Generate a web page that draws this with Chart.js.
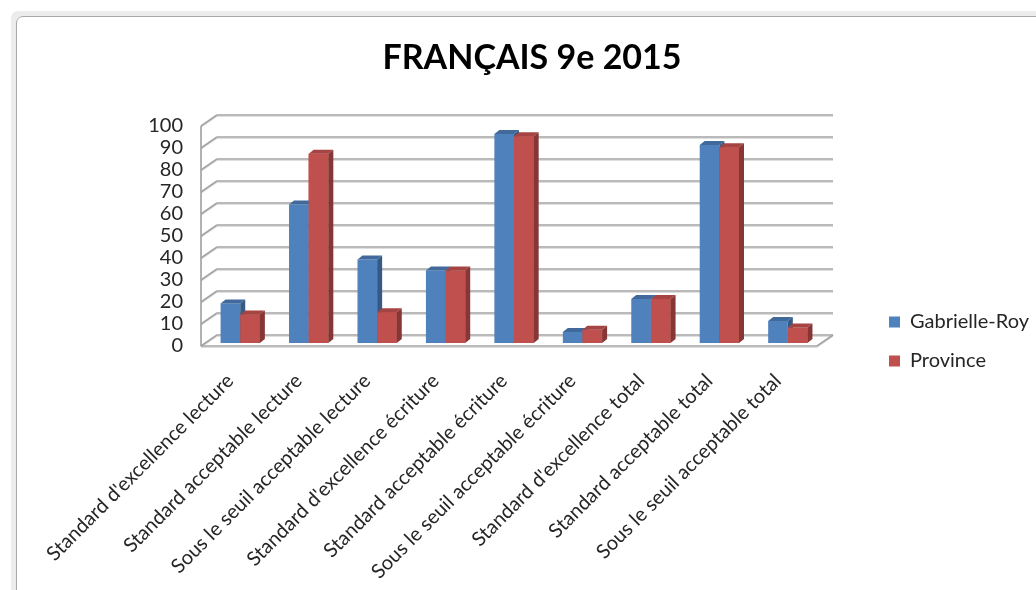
<!DOCTYPE html>
<html>
<head>
<meta charset="utf-8">
<title>Français 9e 2015</title>
<script src="https://cdn.jsdelivr.net/npm/chart.js@4.4.0/dist/chart.umd.min.js"></script>
<style>
  body { margin: 0; width: 1036px; height: 590px; overflow: hidden; position: relative; background: #fff; }
  #frame {
    position: absolute; left: 16px; top: 16px; width: 1060px; height: 620px;
    border: 1px solid #a9a9a9; border-top-left-radius: 7px;
    box-shadow: -5px -5px 0 0 #ececec;
  }
  #wrap { position: absolute; left: 18px; top: 18px; width: 1030px; height: 572px; }
</style>
</head>
<body>
<div id="frame"></div>
<div id="wrap"><canvas id="chart" width="1030" height="572"></canvas></div>
<script>
// data
const categories = [
  "Standard d'excellence lecture",
  "Standard acceptable lecture",
  "Sous le seuil acceptable lecture",
  "Standard d'excellence écriture",
  "Standard acceptable écriture",
  "Sous le seuil acceptable écriture",
  "Standard d'excellence total",
  "Standard acceptable total",
  "Sous le seuil acceptable total"
];
const gabrielleRoy = [18, 63, 38, 33, 95, 5, 20, 90, 10];
const province = [13, 86, 14, 33, 94, 6, 20, 89, 7];
const yMin = 0, yMax = 100, yStep = 10;

// 3D look (pixels)
const WALL_DX = 16, WALL_DY = -11;   // depth of the walls
const BAR_DX = 5, BAR_DY = -3;       // bars sit a bit behind the front edge
const DEPTH_DX = 5, DEPTH_DY = -4;   // depth of each bar
const LEGEND_X = 871, LEGEND_Y = 294;

const FONT = 'Lato, "Open Sans", sans-serif';

const colors = {
  blue: { front: '#4f81bd', top: '#41699b', side: '#365a86' },
  red:  { front: '#c0504d', top: '#a54442', side: '#863634' }
};

function drawLine(ctx, x1, y1, x2, y2) {
  ctx.beginPath();
  ctx.moveTo(x1, y1);
  ctx.lineTo(x2, y2);
  ctx.stroke();
}

function strokeWall(ctx, fn) {
  ctx.save();
  ctx.lineWidth = 1;
  ctx.strokeStyle = '#dedede';
  ctx.translate(0, 1.5);
  fn();
  ctx.restore();
  ctx.save();
  ctx.lineWidth = 1.6;
  ctx.strokeStyle = '#a3a3a3';
  fn();
  ctx.restore();
}

function barFaces(ctx, bar, c) {
  const p = bar.getProps(['x', 'y', 'base', 'width'], true);
  const l = p.x - p.width / 2, r = p.x + p.width / 2;
  ctx.fillStyle = c.top;
  ctx.beginPath();
  ctx.moveTo(l, p.y);
  ctx.lineTo(l + DEPTH_DX, p.y + DEPTH_DY);
  ctx.lineTo(r + DEPTH_DX, p.y + DEPTH_DY);
  ctx.lineTo(r, p.y);
  ctx.closePath();
  ctx.fill();
  ctx.fillStyle = c.side;
  ctx.beginPath();
  ctx.moveTo(r, p.y);
  ctx.lineTo(r + DEPTH_DX, p.y + DEPTH_DY);
  ctx.lineTo(r + DEPTH_DX, p.base + DEPTH_DY);
  ctx.lineTo(r, p.base);
  ctx.closePath();
  ctx.fill();
}

const box3d = {
  id: 'box3d',
  afterLayout(chart) {
    // put the legend where Excel had it
    const lg = chart.legend;
    const pad = lg.options.labels.padding;
    const w = lg.width, h = lg.height;
    lg.left = LEGEND_X - pad; lg.right = lg.left + w;
    lg.top = LEGEND_Y - pad; lg.bottom = lg.top + h;
  },
  beforeDatasetsDraw(chart) {
    const ctx = chart.ctx;
    const { left, right, bottom } = chart.chartArea;
    const ys = chart.scales.y;
    strokeWall(ctx, () => {
      ys.ticks.forEach(t => {
        const py = ys.getPixelForValue(t.value);
        drawLine(ctx, left, py, left + WALL_DX, py + WALL_DY);
        drawLine(ctx, left + WALL_DX, py + WALL_DY, right + WALL_DX, py + WALL_DY);
      });
      drawLine(ctx, left, ys.getPixelForValue(yMax), left, bottom);
      drawLine(ctx, left, bottom, right, bottom);
      drawLine(ctx, right, bottom, right + WALL_DX, bottom + WALL_DY);
    });
    ctx.save();
    ctx.translate(BAR_DX, BAR_DY);
  },
  afterDatasetsDraw(chart) {
    const ctx = chart.ctx;
    const m0 = chart.getDatasetMeta(0), m1 = chart.getDatasetMeta(1);
    m0.data.forEach((bar, i) => {
      barFaces(ctx, bar, colors.blue);
      m1.data[i].draw(ctx);
      barFaces(ctx, m1.data[i], colors.red);
    });
    ctx.restore();
  }
};

new Chart(document.getElementById('chart'), {
  type: 'bar',
  data: {
    labels: categories,
    datasets: [
      { label: 'Gabrielle-Roy', data: gabrielleRoy, backgroundColor: colors.blue.front },
      { label: 'Province', data: province, backgroundColor: colors.red.front }
    ]
  },
  options: {
    responsive: false,
    animation: false,
    devicePixelRatio: 1,
    layout: { padding: { left: 60, right: 62, top: 0, bottom: 0 } },
    datasets: { bar: { barPercentage: 1, categoryPercentage: 0.574 } },
    plugins: {
      title: {
        display: true,
        text: 'FRANÇAIS 9e 2015',
        color: '#000',
        font: { family: FONT, size: 34, weight: 'bold' },
        padding: { top: 20, bottom: 47.2 }
      },
      legend: {
        position: 'right',
        align: 'start',
        labels: {
          boxWidth: 11, boxHeight: 11, padding: 19,
          color: '#262626',
          font: { family: FONT, size: 20 }
        }
      },
      tooltip: { enabled: false }
    },
    scales: {
      x: {
        grid: { display: false, drawTicks: false },
        border: { display: false },
        ticks: {
          autoSkip: false, maxRotation: 45, minRotation: 45,
          padding: 23, labelOffset: -5,
          color: '#262626',
          font: { family: FONT, size: 20 }
        },
        afterFit(s) { s.height = 244; }
      },
      y: {
        min: yMin, max: yMax,
        grid: { display: false, drawTicks: false },
        border: { display: false },
        ticks: {
          stepSize: yStep, padding: 18, autoSkip: false,
          color: '#262626',
          font: { family: FONT, size: 20 }
        },
        afterFit(s) { s.width = 123; }
      }
    }
  },
  plugins: [box3d]
});
</script>
</body>
</html>
